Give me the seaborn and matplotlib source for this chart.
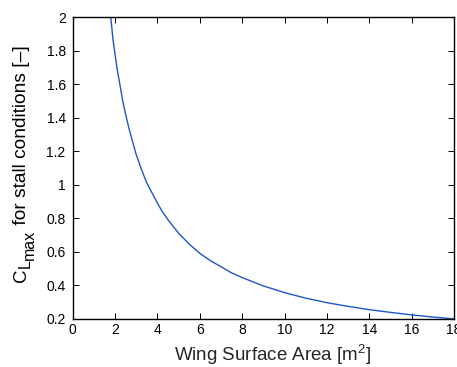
import matplotlib
matplotlib.use("Agg")
import matplotlib.pyplot as plt
import seaborn as sns
import pandas as pd

# Values
wing_area = [1.8, 1.9, 2.0, 2.1, 2.2, 2.35, 2.5, 2.65, 2.8, 3.0, 3.25, 3.5,
             3.75, 4.0, 4.25, 4.5, 5.0, 5.5, 6.0, 6.5, 7.0, 7.5, 8.0, 9.0,
             10.0, 11.0, 12.0, 13.0, 14.0, 15.0, 16.0, 17.0, 18.0]
cl_max = [2.0, 1.87, 1.78, 1.69, 1.62, 1.51, 1.42, 1.34, 1.27, 1.18, 1.09, 1.01,
          0.95, 0.89, 0.835, 0.79, 0.71, 0.645, 0.59, 0.546, 0.51, 0.473, 0.445, 0.395,
          0.355, 0.322, 0.295, 0.273, 0.253, 0.237, 0.222, 0.209, 0.198]

x_ticks = [0, 2, 4, 6, 8, 10, 12, 14, 16, 18]
y_ticks = [0.2, 0.4, 0.6, 0.8, 1.0, 1.2, 1.4, 1.6, 1.8, 2.0]
y_tick_labels = ["0.2", "0.4", "0.6", "0.8", "1", "1.2", "1.4", "1.6", "1.8", "2"]

x_label = "Wing Surface Area [m$^2$]"
y_label_parts = ["C", "L", "max", " for stall conditions [–]"]

df = pd.DataFrame({"S": wing_area, "CL": cl_max})

sns.set_style("ticks")
plt.rcParams["font.family"] = ["Liberation Sans", "DejaVu Sans"]
plt.rcParams["mathtext.fontset"] = "custom"
plt.rcParams["mathtext.rm"] = "Liberation Sans"
plt.rcParams["mathtext.it"] = "Liberation Sans"

W, H = 457, 367
fig = plt.figure(figsize=(W / 100, H / 100), dpi=100)
ax = fig.add_axes([0.159, 0.132, 0.8344, 0.8208])

sns.lineplot(data=df, x="S", y="CL", ax=ax, color="#1f55c6", linewidth=1.0)

ax.set_xlim(0, 18)
ax.set_ylim(0.2, 2)
ax.set_xticks(x_ticks)
ax.set_xticklabels([str(t) for t in x_ticks])
ax.set_yticks(y_ticks)
ax.set_yticklabels(y_tick_labels)

ax.tick_params(direction="in", length=4, width=0.7, labelsize=10,
               top=True, right=True, colors="black")
ax.tick_params(axis="x", pad=3)
ax.tick_params(axis="y", pad=5)
for sp in ax.spines.values():
    sp.set_visible(True)
    sp.set_linewidth(1.0)
    sp.set_color("black")

ax.set_xlabel(x_label, fontsize=13.5)
ax.xaxis.set_label_coords(0.524, -0.08)
ax.set_ylabel("")

# y label built from pieces (rotated 90 degrees), so the nested subscript keeps its size
renderer = fig.canvas.get_renderer()
sizes = [13.5, 11.5, 11.5, 13.8]
drops = [0, 4, 8, 0]          # pixels toward the right (subscript lowering)
base_x = 26                   # baseline x in pixels
y_pos = H - 282               # start (bottom) in pixels from figure bottom
for part, fs, d in zip(y_label_parts, sizes, drops):
    t = fig.text((base_x + d) / W, y_pos / H, part, fontsize=fs, rotation=90,
                 rotation_mode="anchor", ha="left", va="baseline", color="black")
    bb = t.get_window_extent(renderer)
    y_pos += bb.height

fig.savefig("out.png", dpi=100)
